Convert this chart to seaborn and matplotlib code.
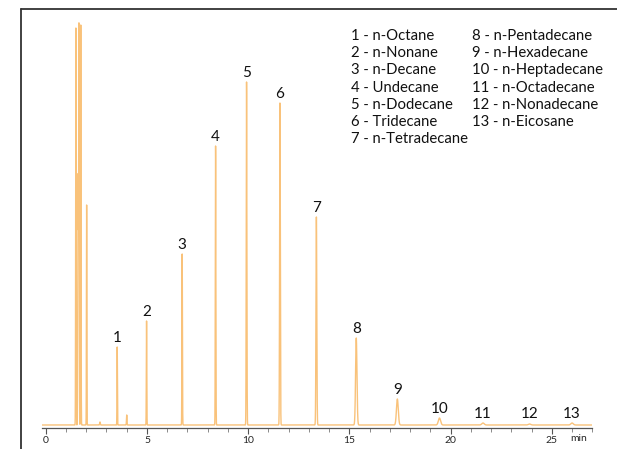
import numpy as np
import pandas as pd
import matplotlib.pyplot as plt
from matplotlib.lines import Line2D
from matplotlib.ticker import MultipleLocator
import seaborn as sns

tiempos_solvente = [1.49, 1.60, 1.64, 1.73, 2.02, 2.68, 4.00]
alturas_solvente = [397, 250, 395, 400, 220, 3, 10]
anchos_solvente = [0.012, 0.015, 0.012, 0.012, 0.010, 0.015, 0.012]

etiquetas = ['1', '2', '3', '4', '5', '6', '7', '8', '9', '10', '11', '12', '13']
tiempos = [3.53, 4.98, 6.74, 8.39, 9.92, 11.57, 13.37, 15.34, 17.37, 19.45, 21.60, 23.90, 26.00]
alturas = [78, 104, 171, 279, 343, 322, 208, 87, 26, 7, 2, 1, 2]
anchos = [0.010, 0.011, 0.012, 0.013, 0.015, 0.017, 0.020, 0.034, 0.045, 0.055, 0.06, 0.06, 0.06]

compuestos = ['n-Octane', 'n-Nonane', 'n-Decane', 'Undecane', 'n-Dodecane', 'Tridecane',
              'n-Tetradecane', 'n-Pentadecane', 'n-Hexadecane', 'n-Heptadecane',
              'n-Octadecane', 'n-Nonadecane', 'n-Eicosane']

color_linea = '#F9C27A'

# Construir la traza a partir de la tabla de picos
t = np.arange(-0.2, 27.0, 0.002)
senal = np.zeros_like(t)
for tr, h, s in zip(tiempos_solvente + tiempos, alturas_solvente + alturas, anchos_solvente + anchos):
    senal += h * np.exp(-0.5 * ((t - tr) / s) ** 2)
df = pd.DataFrame({'t': t, 'senal': senal})

sns.set_style('white')
plt.rcParams['font.family'] = ['Lato', 'DejaVu Sans']

fig = plt.figure(figsize=(6.17, 4.49), dpi=100)
ax = fig.add_axes([41.7 / 617, 21 / 449, 550.6 / 617, 408 / 449])
sns.lineplot(data=df, x='t', y='senal', ax=ax, color=color_linea, linewidth=1.0,
             estimator=None, sort=False)

ax.set_xlim(-0.2, 27.0)
ax.set_ylim(-3, 405)
ax.set_xlabel('')
ax.set_ylabel('')
ax.set_yticks([])
ax.set_xticks([0, 5, 10, 15, 20, 25])
ax.xaxis.set_minor_locator(MultipleLocator(1))
ax.tick_params(axis='x', which='major', direction='out', length=4, width=0.8,
               color='#555555', labelsize=7.5, pad=2, bottom=True)
ax.tick_params(axis='x', which='minor', direction='out', length=3, width=0.6,
               color='#777777', bottom=True)
for lado in ['left', 'right', 'top']:
    ax.spines[lado].set_visible(False)
ax.spines['bottom'].set_color('#555555')
ax.spines['bottom'].set_linewidth(0.9)

ax.text(26.3, -13.5, 'min', fontsize=7.5, ha='center', va='center', clip_on=False)

# Numeros sobre los picos
for etq, tr, h in zip(etiquetas, tiempos, alturas):
    ax.text(tr, max(h + 5, 7), etq, fontsize=11, ha='center', va='baseline', color='#111111')

# Leyenda de compuestos en dos columnas
for i, (etq, nombre) in enumerate(zip(etiquetas, compuestos)):
    col = 0 if i < 7 else 1
    fila = i if i < 7 else i - 7
    x = 350.7 if col == 0 else 471.7
    y = 36 + fila * 17.2
    fig.text(x / 617, 1 - y / 449, f'{etq} - {nombre}', fontsize=10.7, ha='left',
             va='center', color='#111111')

# Marco superior e izquierdo
fig.add_artist(Line2D([20.7 / 617, 1], [1 - 9 / 449, 1 - 9 / 449], color='#333333', linewidth=1.3))
fig.add_artist(Line2D([20.7 / 617, 20.7 / 617], [0, 1 - 9 / 449], color='#333333', linewidth=1.3))

fig.savefig('out.png', dpi=100)
